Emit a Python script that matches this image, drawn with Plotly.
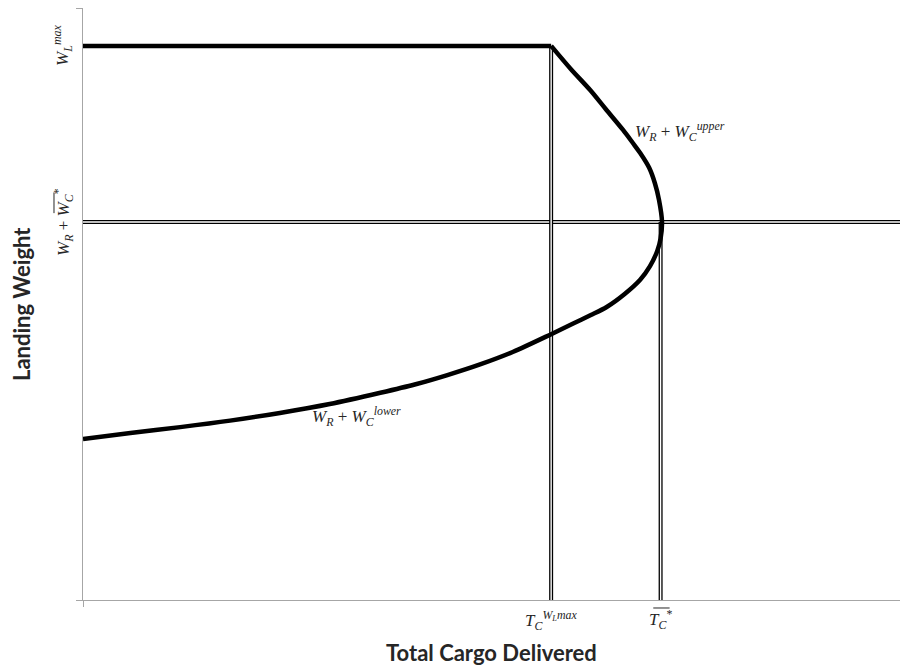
import plotly.graph_objects as go

# ---- data (abstract units) ----
x_range = [0, 10]
y_range = [0, 10]

wl_max = 9.36          # W_L^max level
wr_wc_star = 6.385     # W_R + W_C* level
tc_wlmax = 5.73        # T_C^{W_L^max}
tc_star = 7.07         # T_C*

flat_x = [0, 5.73]
flat_y = [9.36, 9.36]

curve_x = [5.73, 5.97, 6.21, 6.40, 6.61, 6.73, 6.82, 6.93, 7.00, 7.05, 7.087,
           7.07, 7.03, 6.94, 6.82, 6.63, 6.41, 6.21, 6.00, 5.73, 5.26, 4.86,
           4.46, 4.06, 3.64, 3.02, 2.41, 1.80, 1.19, 0.58, 0.0]
curve_y = [9.36, 8.97, 8.61, 8.29, 7.94, 7.72, 7.55, 7.30, 7.04, 6.76, 6.385,
           6.11, 5.90, 5.64, 5.41, 5.17, 4.95, 4.81, 4.67, 4.49, 4.19, 3.98,
           3.80, 3.64, 3.50, 3.31, 3.16, 3.03, 2.92, 2.82, 2.72]

math_font = "Liberation Serif"
title_font = "Lato"
txt_col = "#262626"
axis_col = "#a6a6a6"

fig = go.Figure()


def double_line(xs, ys):
    fig.add_trace(go.Scatter(x=xs, y=ys, mode="lines",
                             line=dict(color="#000000", width=4),
                             hoverinfo="skip"))
    fig.add_trace(go.Scatter(x=xs, y=ys, mode="lines",
                             line=dict(color="#ffffff", width=1.4),
                             hoverinfo="skip"))


double_line([x_range[0], x_range[1]], [wr_wc_star, wr_wc_star])
double_line([tc_wlmax, tc_wlmax], [y_range[0], wl_max])
double_line([tc_star, tc_star], [y_range[0], wr_wc_star])

fig.add_trace(go.Scatter(x=flat_x, y=flat_y, mode="lines",
                         line=dict(color="#000000", width=4.5)))
fig.add_trace(go.Scatter(x=curve_x, y=curve_y, mode="lines",
                         line=dict(color="#000000", width=4.5, shape="spline", smoothing=0.85)))

mf = dict(family=math_font, size=17, color=txt_col)
ann = []
# curve labels
ann.append(dict(x=(680 - 83) / 81.7, y=(600 - 131) / 59.2, xref="x", yref="y", showarrow=False,
                xanchor="center", yanchor="middle",
                text="<i>W</i><sub><i>R</i></sub> + <i>W</i><sub><i>C</i></sub><sup><i>upper</i></sup>",
                font=mf))
ann.append(dict(x=(356 - 83) / 81.7, y=(600 - 416) / 59.2, xref="x", yref="y", showarrow=False,
                xanchor="center", yanchor="middle",
                text="<i>W</i><sub><i>R</i></sub> + <i>W</i><sub><i>C</i></sub><sup><i>lower</i></sup>",
                font=mf))
# x tick-like labels
ann.append(dict(x=tc_wlmax, y=0, xref="x", yref="paper", yshift=-20, showarrow=False,
                xanchor="center", yanchor="middle",
                text="<i>T</i><sub><i>C</i></sub><sup><i>W<sub>L</sub>max</i></sup>",
                font=mf))
ann.append(dict(x=tc_star, y=0, xref="x", yref="paper", yshift=-19, showarrow=False,
                xanchor="center", yanchor="middle",
                text="<i>T</i><sub><i>C</i></sub><sup>*</sup>",
                font=mf))
# y tick-like labels (rotated)
ann.append(dict(x=0, y=wl_max, xref="paper", yref="y", xshift=-20, showarrow=False,
                xanchor="center", yanchor="middle", textangle=-90,
                text="<i>W</i><sub><i>L</i></sub><sup><i>max</i></sup>",
                font=mf))
ann.append(dict(x=0, y=wr_wc_star, xref="paper", yref="y", xshift=-20, showarrow=False,
                xanchor="center", yanchor="middle", textangle=-90,
                text="<i>W</i><sub><i>R</i></sub> + <i>W</i><sub><i>C</i></sub><sup>*</sup>",
                font=mf))
# axis titles
ann.append(dict(x=0.5, y=0, xref="paper", yref="paper", yshift=-52,
                xanchor="center", yanchor="middle",
                showarrow=False, text="<b>Total Cargo Delivered</b>",
                font=dict(family=title_font, size=22, color=txt_col)))
ann.append(dict(x=0, y=0.5, xref="paper", yref="paper", xshift=-62,
                xanchor="center", yanchor="middle",
                showarrow=False, textangle=-90, text="<b>Landing Weight</b>",
                font=dict(family=title_font, size=22, color=txt_col)))

shapes = [
    # overline on T_C*
    dict(type="line", xref="x", yref="paper",
         x0=tc_star - 0.09, x1=tc_star + 0.11, y0=-0.0135, y1=-0.0135,
         line=dict(color=txt_col, width=1)),
    # overline on W_C*
    dict(type="line", xref="paper", yref="y",
         x0=-0.0355, x1=-0.0355, y0=wr_wc_star + 0.15, y1=wr_wc_star + 0.50,
         line=dict(color=txt_col, width=1)),
]

fig.update_layout(
    width=900, height=669,
    margin=dict(l=83, r=0, t=8, b=69),
    paper_bgcolor="white", plot_bgcolor="white",
    showlegend=False,
    annotations=ann,
    shapes=shapes,
    xaxis=dict(range=x_range, showline=True, linecolor=axis_col, linewidth=1,
               ticks="outside", ticklen=6, tickcolor=axis_col, tickvals=[0],
               showticklabels=False, showgrid=False, zeroline=False),
    yaxis=dict(range=y_range, showline=True, linecolor=axis_col, linewidth=1,
               ticks="outside", ticklen=6, tickcolor=axis_col, tickvals=[0, 10],
               showticklabels=False, showgrid=True, gridcolor=axis_col, gridwidth=1,
               zeroline=False),
)

fig.write_html("out.html", config={"displayModeBar": False},
               post_script="document.body.style.margin='0';document.body.style.overflow='hidden';")
